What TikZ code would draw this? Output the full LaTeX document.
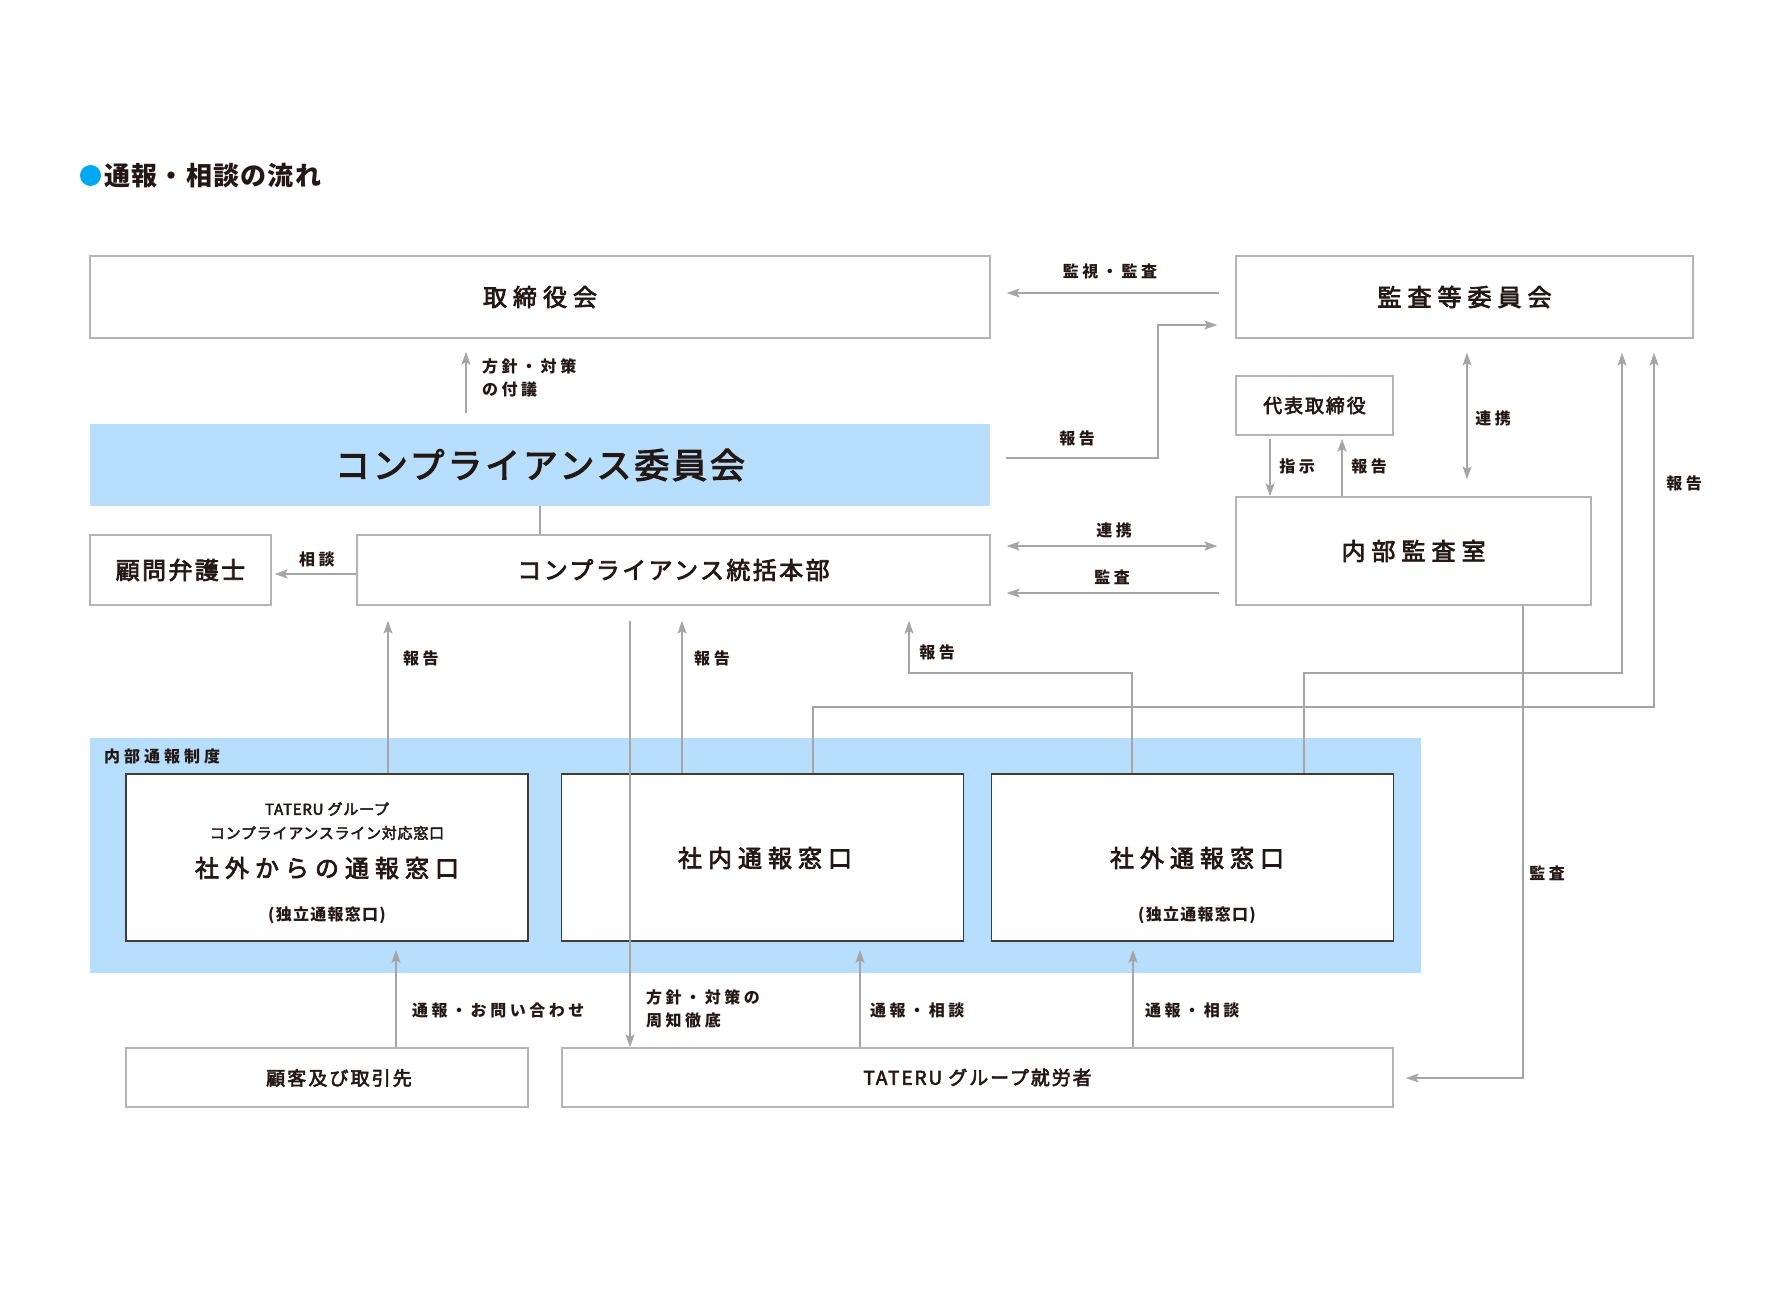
\documentclass[tikz,border=0pt]{standalone}
\usepackage{fontspec}
\setmainfont{Noto Sans CJK JP}
\usetikzlibrary{arrows.meta}
\definecolor{inkgray}{HTML}{231815}
\definecolor{linegray}{HTML}{A5A5A5}
\definecolor{framegray}{HTML}{B4B4B4}
\definecolor{bandblue}{HTML}{B7DEFC}
\definecolor{dotblue}{HTML}{00A8F2}
\newcommand{\jpfont}[2]{\fontsize{#1}{#1}\selectfont\bfseries\addfontfeatures{LetterSpace=#2}}
\newcommand{\jpmid}[2]{\fontsize{#1}{#1}\selectfont\addfontfeatures{LetterSpace=#2,FakeBold=3}}
\begin{document}
\begin{tikzpicture}[x=1pt,y=-1pt,
    every node/.style={text=inkgray, inner sep=0pt},
    frame/.style={draw=framegray, line width=1.5pt, fill=white},
    window/.style={draw=inkgray!85, line width=1.8pt, fill=white, minimum width=402pt, minimum height=167pt},
    band/.style={fill=bandblue},
    lbl/.style={font=\jpfont{16}{22}},
    arr/.style={draw=linegray, line width=1.4pt, -{Stealth[length=13pt, width=9pt, inset=3pt]}},
    darr/.style={draw=linegray, line width=1.4pt, {Stealth[length=13pt, width=9pt, inset=3pt]}-{Stealth[length=13pt, width=9pt, inset=3pt]}},
    plain/.style={draw=linegray, line width=1.4pt}]
    \useasboundingbox[fill=white] (0,0) rectangle (1770,1296);

    % title
    \fill[dotblue] (90.5,175.5) circle (10.5);
    \node[anchor=west, font=\jpfont{26}{5}] (title) at (104,176) {通報・相談の流れ};

    % upper boxes
    \node[frame, minimum width=900pt, minimum height=82pt, font=\jpmid{24}{25}] (board) at (540,297) {取締役会};
    \node[frame, minimum width=457pt, minimum height=82pt, font=\jpmid{24}{25}] (audit) at (1464.5,297) {監査等委員会};
    \node[band, minimum width=900pt, minimum height=82pt, font=\jpmid{35}{8}] (cmte) at (540,465) {コンプライアンス委員会};
    \node[frame, minimum width=157pt, minimum height=59pt, font=\jpmid{19}{10}] (ceo) at (1314.5,405.5) {代表取締役};
    \node[frame, minimum width=355pt, minimum height=108pt, font=\jpmid{24}{25}] (iaudit) at (1413.5,551) {内部監査室};
    \node[frame, minimum width=633pt, minimum height=70pt, font=\jpmid{24}{10}] (hq) at (673.5,570) {コンプライアンス統括本部};
    \node[frame, minimum width=181pt, minimum height=70pt, font=\jpmid{24}{10}] (lawyer) at (180.5,570) {顧問弁護士};

    % whistleblowing system
    \node[band, minimum width=1331pt, minimum height=235pt] (system) at (755.5,855.5) {};
    \node[anchor=west, font=\jpfont{16}{25}] (systemlbl) at (104,756) {内部通報制度};
    \node[window] (outdesk) at (327,857.5) {};
    \node[window] (indesk) at (762.5,857.5) {};
    \node[window] (extdesk) at (1192.5,857.5) {};
    \node[font=\jpmid{15}{5}] (outdesk1) at (327,809) {TATERU グループ};
    \node[font=\jpmid{15}{5}] (outdesk2) at (327,833) {コンプライアンスライン対応窓口};
    \node[font=\jpmid{24}{25}] (outdesk3) at (327,868) {社外からの通報窓口};
    \node[font=\jpfont{16}{8}] (outdesk4) at (327,915) {(独立通報窓口)};
    \node[font=\jpmid{24}{25}] (indesk1) at (765,858) {社内通報窓口};
    \node[font=\jpmid{24}{25}] (extdesk1) at (1197,858) {社外通報窓口};
    \node[font=\jpfont{16}{8}] (extdesk2) at (1197,915) {(独立通報窓口)};

    % lower boxes
    \node[frame, minimum width=402pt, minimum height=59pt] (client) at (327,1077.5) {};
    \node[font=\jpmid{19}{11}] (clientlbl) at (339,1078) {顧客及び取引先};
    \node[frame, minimum width=831pt, minimum height=59pt, font=\jpmid{19}{10}] (staff) at (977.5,1077.5) {TATERU グループ就労者};

    % bends
    \coordinate (b1) at (1158,325);
    \coordinate (r1) at (1622,673);
    \coordinate (r2) at (1654,707);
    \coordinate (r3) at (909,673);
    \coordinate (r4) at (1523,1078);

    % connectors
    \draw[arr, shorten <=16pt, shorten >=16pt] ([yshift=4pt]audit.west) -- ([yshift=4pt]audit.west -| board.east);
    \draw[arr, shorten <=16pt, shorten >=18pt] ([yshift=7pt]cmte.east) -| (b1) -- (b1 -| audit.west);
    \draw[arr, shorten <=11pt, shorten >=13pt] ([xshift=-74pt]cmte.north) -- ([xshift=-74pt]board.south);
    \draw[plain] (cmte.south) -- (cmte.south |- hq.north);
    \draw[arr, shorten >=3pt] ([yshift=-4pt]hq.west) -- ([yshift=-4pt]lawyer.east);
    \draw[darr, shorten <=16pt, shorten >=18pt] ([yshift=24pt]hq.east) -- ([yshift=24pt]hq.east -| iaudit.west);
    \draw[arr, shorten <=16pt, shorten >=16pt] ([yshift=-23pt]hq.east -| iaudit.west) -- ([yshift=-23pt]hq.east);
    \draw[arr, shorten <=3pt] ([xshift=-44.5pt]ceo.south) -- ([xshift=-44.5pt]ceo.south |- iaudit.north);
    \draw[arr, shorten >=3pt] ([xshift=27.5pt]ceo.south |- iaudit.north) -- ([xshift=27.5pt]ceo.south);
    \draw[darr, shorten <=14pt, shorten >=17pt] ([xshift=2.5pt]audit.south) -- ([xshift=2.5pt]audit.south |- iaudit.north);
    \draw[arr, shorten >=15pt] ([xshift=61pt]outdesk.north) -- ([xshift=61pt]outdesk.north |- hq.south);
    \draw[arr, shorten >=15pt] ([xshift=-80.5pt]indesk.north) -- ([xshift=-80.5pt]indesk.north |- hq.south);
    \draw[arr, shorten >=15pt] ([xshift=-60.5pt]extdesk.north) |- (r3) -- (r3 |- hq.south);
    \draw[arr, shorten <=15pt] ([xshift=-43.5pt]hq.south) -- ([xshift=-43.5pt]hq.south |- staff.north);
    \draw[arr, shorten >=14pt] ([xshift=50.5pt]indesk.north) |- (r2) -- (r2 |- audit.south);
    \draw[arr, shorten >=14pt] ([xshift=111.5pt]extdesk.north) |- (r1) -- (r1 |- audit.south);
    \draw[arr, shorten >=12pt] ([xshift=109.5pt]iaudit.south) -- (r4) -- (r4 -| staff.east);
    \draw[arr, shorten >=8pt] ([xshift=69pt]client.north) -- ([xshift=69pt]client.north |- outdesk.south);
    \draw[arr, shorten >=8pt] ([xshift=-117.5pt]staff.north) -- ([xshift=-117.5pt]staff.north |- indesk.south);
    \draw[arr, shorten >=8pt] ([xshift=155.5pt]staff.north) -- ([xshift=155.5pt]staff.north |- extdesk.south);

    % labels
    \node[lbl] (l1) at (1110,271) {監視・監査};
    \node[lbl] (l2) at (1077,438) {報告};
    \node[lbl, anchor=west, align=left] (l3) at (482,377.5) {方針・対策\\[7pt]の付議};
    \node[lbl] (l4) at (1297,466) {指示};
    \node[lbl] (l5) at (1369,466) {報告};
    \node[lbl] (l6) at (1493,418) {連携};
    \node[lbl] (l7) at (1684,483) {報告};
    \node[lbl] (l8) at (1114,530) {連携};
    \node[lbl] (l9) at (1112,577) {監査};
    \node[lbl] (l10) at (317,559) {相談};
    \node[lbl] (l11) at (421,658) {報告};
    \node[lbl] (l12) at (712,658) {報告};
    \node[lbl] (l13) at (937,652) {報告};
    \node[lbl, anchor=west, align=left] (l14) at (646,1009) {方針・対策の\\[7pt]周知徹底};
    \node[lbl, anchor=west] (l15) at (412,1010) {通報・お問い合わせ};
    \node[lbl, anchor=west] (l16) at (870,1010) {通報・相談};
    \node[lbl, anchor=west] (l17) at (1145,1010) {通報・相談};
    \node[lbl] (l18) at (1547,873) {監査};
\end{tikzpicture}
\end{document}
